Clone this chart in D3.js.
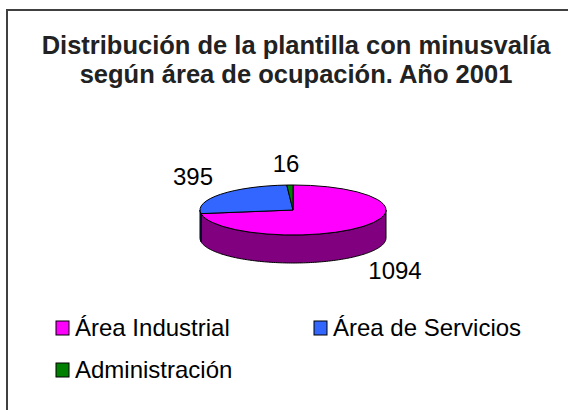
<!DOCTYPE html>
<html>
<head>
<meta charset="utf-8">
<script src="https://cdn.jsdelivr.net/npm/d3@7"></script>
<style>
  body { margin: 0; background: #fff; }
  svg { display: block; font-family: "Liberation Sans", Arial, sans-serif; }
</style>
</head>
<body>
<script>
// chart data
var categories = ["Área Industrial", "Área de Servicios", "Administración"];
var values = [1094, 395, 16];
var colors = ["#ff00ff", "#3366ff", "#008000"];
var sideColors = ["#800080", "#1a3399", "#004000"];
var titleLines = ["Distribución de la plantilla con minusvalía", "según área de ocupación. Año 2001"];

var width = 568, height = 410;

var svg = d3.select("body").append("svg")
    .attr("width", width)
    .attr("height", height);

// chart frame (right and bottom edge fall outside the picture)
svg.append("rect")
    .attr("x", 7).attr("y", 10)
    .attr("width", 600).attr("height", 450)
    .attr("fill", "#fff")
    .attr("stroke", "#404040")
    .attr("stroke-width", 2);

// title
svg.append("g").selectAll("text")
    .data(titleLines)
    .enter().append("text")
    .attr("x", 296)
    .attr("y", function(d, i) { return 54 + i * 29; })
    .attr("text-anchor", "middle")
    .attr("font-size", 25.5)
    .attr("font-weight", "bold")
    .attr("fill", "#222")
    .text(function(d) { return d; });

// pie geometry
var cx = 293, cy = 210, rx = 93, ry = 25, depth = 28;

var pie = d3.pie().sort(null).value(function(d) { return d; });
var arcs = pie(values);

function px(a) { return cx + rx * Math.sin(a); }
function py(a) { return cy - ry * Math.cos(a); }

var line = d3.line();

// side walls (only the front half is visible)
var wall = svg.append("g");
arcs.forEach(function(d, i) {
    var a0 = Math.max(d.startAngle, Math.PI / 2);
    var a1 = Math.min(d.endAngle, Math.PI * 1.5);
    if (a1 <= a0) return;
    var steps = d3.range(a0, a1, 0.02).concat([a1]);
    var pts = steps.map(function(a) { return [px(a), py(a)]; });
    var back = steps.slice().reverse().map(function(a) { return [px(a), py(a) + depth]; });
    wall.append("path")
        .attr("d", line(pts.concat(back)) + "Z")
        .attr("fill", sideColors[i])
        .attr("stroke", "#000")
        .attr("stroke-width", 1);
});

// top faces
var arc = d3.arc().innerRadius(0).outerRadius(rx);
svg.append("g")
    .attr("transform", "translate(" + cx + "," + cy + ") scale(1," + (ry / rx) + ")")
    .selectAll("path")
    .data(arcs)
    .enter().append("path")
    .attr("d", arc)
    .attr("fill", function(d, i) { return colors[i]; })
    .attr("stroke", "#000")
    .attr("stroke-width", 1)
    .attr("vector-effect", "non-scaling-stroke");

// value labels
var labelPos = [[395, 279], [193, 185], [286, 172]];
svg.append("g").selectAll("text")
    .data(values)
    .enter().append("text")
    .attr("x", function(d, i) { return labelPos[i][0]; })
    .attr("y", function(d, i) { return labelPos[i][1]; })
    .attr("text-anchor", "middle")
    .attr("font-size", 24)
    .attr("fill", "#000")
    .text(function(d) { return d; });

// legend
var legendPos = [[56, 321], [314, 321], [56, 363]];
var legend = svg.append("g").selectAll("g")
    .data(categories)
    .enter().append("g")
    .attr("transform", function(d, i) { return "translate(" + legendPos[i][0] + "," + legendPos[i][1] + ")"; });

legend.append("rect")
    .attr("width", 13).attr("height", 14)
    .attr("fill", function(d, i) { return colors[i]; })
    .attr("stroke", "#000")
    .attr("stroke-width", 1);

legend.append("text")
    .attr("x", 19).attr("y", 15)
    .attr("font-size", 24)
    .attr("fill", "#000")
    .text(function(d) { return d; });
</script>
</body>
</html>
